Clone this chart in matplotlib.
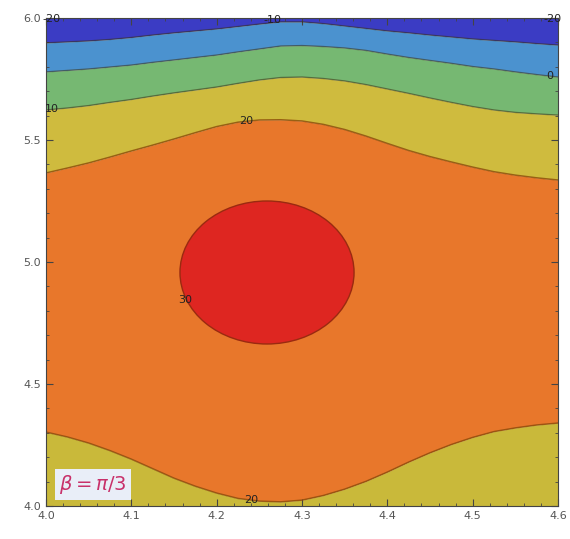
import matplotlib.pyplot as plt
import numpy as np
from matplotlib.patches import Ellipse

x = np.linspace(4.0, 4.6, 25)

# contour line heights (y) at each x
c_m10 = [5.898, 5.902, 5.906, 5.912, 5.920, 5.930, 5.939, 5.947, 5.955, 5.965, 5.975, 5.984, 5.984,
         5.977, 5.967, 5.957, 5.947, 5.939, 5.930, 5.922, 5.914, 5.908, 5.902, 5.895, 5.889]
c_0 = [5.779, 5.785, 5.791, 5.799, 5.807, 5.818, 5.828, 5.838, 5.848, 5.861, 5.873, 5.885, 5.887,
       5.883, 5.877, 5.867, 5.852, 5.838, 5.826, 5.814, 5.801, 5.791, 5.779, 5.768, 5.758]
c_10 = [5.623, 5.631, 5.641, 5.654, 5.666, 5.680, 5.693, 5.705, 5.717, 5.732, 5.746, 5.756, 5.758,
        5.752, 5.742, 5.727, 5.709, 5.691, 5.672, 5.654, 5.637, 5.623, 5.613, 5.607, 5.602]
c_20_top = [5.365, 5.385, 5.406, 5.430, 5.455, 5.479, 5.504, 5.530, 5.555, 5.573, 5.582, 5.583, 5.578,
            5.564, 5.543, 5.516, 5.486, 5.457, 5.432, 5.410, 5.389, 5.370, 5.356, 5.345, 5.336]
c_20_bot = [4.303, 4.283, 4.258, 4.227, 4.192, 4.153, 4.114, 4.081, 4.053, 4.031, 4.020, 4.017, 4.024,
            4.043, 4.069, 4.101, 4.139, 4.180, 4.218, 4.252, 4.281, 4.305, 4.320, 4.332, 4.340]

# the 30 contour is a closed loop: centre and half widths
c30_center = (4.259, 4.957)
c30_half = (0.102, 0.293)

colors = {'lt-10': '#3b3cc4', '-10': '#4b92cf', '0': '#76b872',
          '10': '#cfbb3e', '20': '#e8772b', '30': '#de2621'}
line_col = '#3a3010'

fig = plt.figure(figsize=(5.7, 5.39), dpi=100)
ax = fig.add_axes([46/570, 1 - 506/539, (558 - 46)/570, (506 - 18)/539])

ax.fill_between(x, c_m10, 6.0, color=colors['lt-10'], lw=0)
ax.fill_between(x, c_0, c_m10, color=colors['-10'], lw=0)
ax.fill_between(x, c_10, c_0, color=colors['0'], lw=0)
ax.fill_between(x, c_20_top, c_10, color=colors['10'], lw=0)
ax.fill_between(x, c_20_bot, c_20_top, color=colors['20'], lw=0)
ax.fill_between(x, 4.0, c_20_bot, color='#c9b93a', lw=0)
ax.add_patch(Ellipse(c30_center, 2 * c30_half[0], 2 * c30_half[1],
                     facecolor=colors['30'], edgecolor='#9a2a10', lw=1.0))

for c in [c_m10, c_0, c_10]:
    ax.plot(x, c, color=line_col, lw=1.0, alpha=0.55)
for c in [c_20_top, c_20_bot]:
    ax.plot(x, c, color='#8a4a08', lw=1.1, alpha=0.8)

# contour labels
lab = dict(fontsize=8, color='#222222', ha='center', va='center')
ax.text(4.006, 5.995, '-20', clip_on=False, **lab)
ax.text(4.594, 5.995, '-20', clip_on=False, **lab)
ax.text(4.265, np.interp(4.265, x, c_m10) + 0.01, '-10', **lab)
ax.text(4.590, np.interp(4.590, x, c_0), '0', **lab)
ax.text(4.007, np.interp(4.007, x, c_10), '10', **lab)
ax.text(4.235, np.interp(4.235, x, c_20_top), '20', **lab)
ax.text(4.241, np.interp(4.241, x, c_20_bot), '20', **lab)
ax.text(4.163, 4.844, '30', **lab)

ax.text(4.055, 4.088, r'$\beta = \pi/3$', fontsize=14, color='#c8306a',
        ha='center', va='center',
        bbox=dict(boxstyle='square,pad=0.2', facecolor='#e9eef8', edgecolor='none'))

ax.set_xlim(4.0, 4.6)
ax.set_ylim(4.0, 6.0)
ax.set_xticks(np.arange(4.0, 4.61, 0.1))
ax.set_yticks(np.arange(4.0, 6.01, 0.5))
ax.set_xticks(np.arange(4.0, 4.601, 0.02), minor=True)
ax.set_yticks(np.arange(4.0, 6.001, 0.1), minor=True)
ax.tick_params(which='both', direction='in', top=True, right=True,
               labelsize=8, labelcolor='#555555', color='#444444')
ax.tick_params(which='major', length=5)
ax.tick_params(which='minor', length=2.5)
for s in ax.spines.values():
    s.set_color('#444444')
    s.set_linewidth(0.8)

fig.savefig('out.png', dpi=100)
